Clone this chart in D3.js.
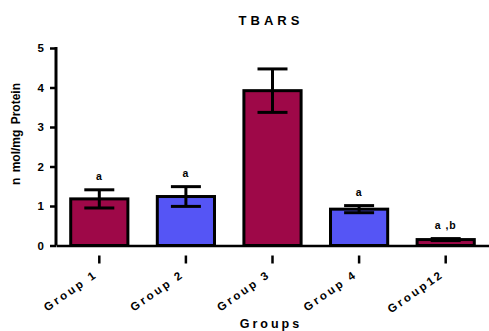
<!DOCTYPE html>
<html><head><meta charset="utf-8">
<script src="https://cdn.jsdelivr.net/npm/d3@7"></script>
<style>body{margin:0;background:#fff}svg{display:block}text{font-family:"Liberation Sans",Arial,sans-serif;font-weight:bold;fill:#000}</style>
</head><body>
<script>
const categories = ["Group 1","Group 2","Group 3","Group 4","Group12"];
const means = [1.18, 1.24, 3.92, 0.92, 0.15];
const errors = [0.23, 0.25, 0.55, 0.09, 0.025];
const sigLabels = ["a","a","","a","a ,b"];
const barColors = ["#9E0848","#5555F5","#9E0848","#5555F5","#9E0848"];
const yTicks = [0,1,2,3,4,5];

const W=489,H=331;
const svg=d3.select("body").append("svg").attr("width",W).attr("height",H);
const x=d3.scaleBand().domain(categories).range([56,489]).paddingInner(0.305).paddingOuter(0.1525);
const y=d3.scaleLinear().domain([0,5]).range([245.5,48]);

svg.append("text").attr("x",271).attr("y",25).attr("text-anchor","middle")
  .attr("font-size",13).attr("letter-spacing",4).text("TBARS");

// bars
svg.selectAll("rect.bar").data(categories).join("rect")
  .attr("x",d=>x(d)+1.5).attr("width",x.bandwidth()-3)
  .attr("y",(d,i)=>y(means[i])).attr("height",(d,i)=>y(0)-y(means[i]))
  .attr("fill",(d,i)=>barColors[i]).attr("stroke","#000").attr("stroke-width",3);

// error bars
const eg=svg.append("g").attr("stroke","#000").attr("stroke-width",3);
categories.forEach((c,i)=>{
  const cx=x(c)+x.bandwidth()/2, top=y(means[i]+errors[i]), bot=y(means[i]-errors[i]);
  eg.append("line").attr("x1",cx).attr("x2",cx).attr("y1",top).attr("y2",bot);
  eg.append("line").attr("x1",cx-15).attr("x2",cx+15).attr("y1",top).attr("y2",top);
  eg.append("line").attr("x1",cx-15).attr("x2",cx+15).attr("y1",bot).attr("y2",bot);
  if(sigLabels[i]) svg.append("text").attr("x",cx).attr("y",top-10).attr("text-anchor","middle")
     .attr("font-size",10.5).attr("letter-spacing",1).text(sigLabels[i]);
});

// y axis
const ya=svg.append("g").attr("transform","translate(56,0)")
  .call(d3.axisLeft(y).tickValues(yTicks).tickSize(6).tickPadding(6).tickFormat(d3.format("d")));
ya.select(".domain").attr("stroke-width",3).attr("d","M0,"+y(0)+"V"+(y(5)-1));
ya.selectAll(".tick line").attr("stroke-width",2.5);
ya.selectAll("text").attr("font-size",11.5).attr("font-weight","bold").attr("font-family","Liberation Sans, Arial, sans-serif");

// x axis
const xa=svg.append("g").attr("transform",`translate(0,${y(0)})`)
  .call(d3.axisBottom(x).tickSize(8).tickSizeOuter(0).tickFormat(""));
xa.select(".domain").attr("stroke-width",2.5);
xa.selectAll(".tick line").attr("stroke-width",2.5).attr("y1",10).attr("y2",18);
categories.forEach(c=>{
  const cx=x(c)+x.bandwidth()/2;
  svg.append("text").attr("transform",`translate(${cx-1},${276}) rotate(-35)`)
    .attr("text-anchor","end").attr("font-size",11.5).attr("letter-spacing",2.6).text(c);
});

svg.append("text").attr("x",271).attr("y",328).attr("text-anchor","middle")
  .attr("font-size",12.5).attr("letter-spacing",3).text("Groups");
svg.append("text").attr("transform","translate(20,134) rotate(-90)").attr("text-anchor","middle")
  .attr("font-size",12).attr("letter-spacing",0).attr("word-spacing",2).text("n mol/mg Protein");
</script>
</body></html>
